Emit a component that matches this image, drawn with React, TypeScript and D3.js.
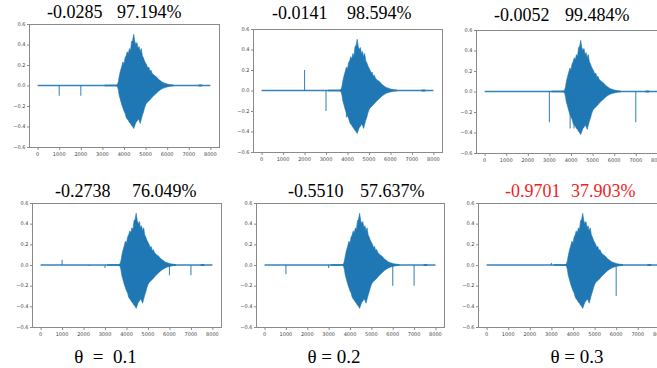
import * as d3 from 'd3';

// tick values shared by every panel
const xTicks = [0, 1000, 2000, 3000, 4000, 5000, 6000, 7000, 8000];
const yTicks = [-0.6, -0.4, -0.2, 0.0, 0.2, 0.4, 0.6];

// envelope of the speech burst (sample index, upper, lower)
const envX = [3650, 3700, 3740, 3780, 3820, 3860, 3900, 3950, 4000, 4050, 4100, 4150, 4200, 4250, 4300, 4350, 4400,
  4450, 4500, 4550, 4600, 4650, 4700, 4750, 4800, 4850, 4900, 4950, 5000, 5050, 5100, 5150, 5200, 5250, 5300, 5400,
  5500, 5600, 5700, 5800, 5900, 6000, 6100, 6200, 6300];
const envUpper = [0.006, 0.012, 0.04, 0.09, 0.13, 0.16, 0.19, 0.23, 0.21, 0.27, 0.29, 0.33, 0.31, 0.36, 0.34, 0.43,
  0.44, 0.5, 0.43, 0.4, 0.42, 0.36, 0.38, 0.33, 0.36, 0.29, 0.27, 0.24, 0.22, 0.2, 0.17, 0.18, 0.14, 0.15, 0.12, 0.1,
  0.085, 0.06, 0.045, 0.03, 0.022, 0.015, 0.01, 0.007, 0.005];
const envLower = [-0.006, -0.012, -0.045, -0.1, -0.13, -0.16, -0.19, -0.22, -0.25, -0.27, -0.31, -0.33, -0.34, -0.36,
  -0.37, -0.39, -0.4, -0.42, -0.39, -0.36, -0.35, -0.33, -0.34, -0.37, -0.33, -0.29, -0.26, -0.22, -0.19, -0.17,
  -0.16, -0.15, -0.14, -0.13, -0.115, -0.095, -0.075, -0.055, -0.04, -0.028, -0.02, -0.014, -0.009, -0.006, -0.005];

// low-level noise stretches before / after the burst
const quietStart = [3100, 7450];
const quietEnd = [3650, 7620];
const quietAmp = [0.008, 0.01];

// injected impulses per panel: [sample, value]
const spikes: [number, number][][] = [
  [[1000, -0.1], [2000, -0.1]],
  [[2000, 0.2], [3000, -0.2], [3950, -0.26]],
  [[3000, -0.3], [7000, -0.3], [3960, -0.36], [4140, -0.36]],
  [[1000, 0.05], [2250, -0.01], [3000, -0.03], [6000, -0.1], [7000, -0.1]],
  [[1000, -0.09], [3000, -0.03], [6000, -0.2], [7000, -0.2]],
  [[3000, 0.02], [6000, -0.3]],
];

const corrLabels = ['-0.0285', '-0.0141', '-0.0052', '-0.2738', '-0.5510', '-0.9701'];
const accLabels = ['97.194%', '98.594%', '99.484%', '76.049%', '57.637%', '37.903%'];
const thetaLabels = ['θ\u00a0 =\u00a0 0.1', 'θ = 0.2', 'θ = 0.3'];

// layout of each subplot (pixels)
const panels = [
  { left: 29, right: 219, top: 24, bottom: 147, t1: 47, t2: 117, ty: 17.5 },
  { left: 253, right: 442, top: 29, bottom: 152, t1: 272, t2: 347, ty: 19.3 },
  { left: 476, right: 666, top: 30, bottom: 153, t1: 494, t2: 565, ty: 20.7 },
  { left: 32, right: 221, top: 203, bottom: 327, t1: 55, t2: 132, ty: 197.3 },
  { left: 256, right: 444, top: 203, bottom: 327, t1: 288, t2: 360, ty: 196.7 },
  { left: 478, right: 668, top: 203, bottom: 327, t1: 505, t2: 571, ty: 196.7 },
];
const thetaX = [105.5, 334, 577];

const blue = '#1f77b4';
const fmtY = (v: number) => d3.format('.1f')(v).replace('-', '\u2212');

function Panel({ idx }: { idx: number }) {
  const p = panels[idx];
  const x = d3.scaleLinear().domain([-400, 8400]).range([p.left, p.right]);
  const y = d3.scaleLinear().domain([-0.6, 0.6]).range([p.bottom, p.top]);

  const area = d3.area<number>()
    .x((_, k) => x(envX[k]))
    .y0((_, k) => y(envLower[k]))
    .y1((_, k) => y(envUpper[k]));

  const titleColor = idx === 5 ? '#f21d1d' : '#000';

  return (
    <g>
      {/* title */}
      <text fontFamily="'Liberation Serif', 'Times New Roman', serif" fontSize={18} fill={titleColor}>
        <tspan x={p.t1} y={p.ty}>{corrLabels[idx]}</tspan>
        <tspan x={p.t2} y={p.ty}>{accLabels[idx]}</tspan>
      </text>

      {/* signal */}
      <line x1={x(0)} x2={x(8000)} y1={y(0)} y2={y(0)} stroke={blue} strokeWidth={1.5} opacity={0.9} />
      {quietStart.map((s, k) => (
        <rect key={'q' + k} x={x(s)} width={x(quietEnd[k]) - x(s)} y={y(quietAmp[k])}
          height={y(-quietAmp[k]) - y(quietAmp[k])} fill={blue} opacity={0.85} />
      ))}
      <path d={area(envX) || ''} fill={blue} stroke={blue} strokeWidth={0.6} />
      {spikes[idx].map(([s, v], k) => (
        <line key={'s' + k} x1={x(s)} x2={x(s)} y1={y(0)} y2={y(v)} stroke={blue} strokeWidth={1.1} opacity={0.85} />
      ))}

      {/* frame */}
      <rect x={p.left + 0.5} y={p.top + 0.5} width={p.right - p.left} height={p.bottom - p.top}
        fill="none" stroke="#8a8a8a" strokeWidth={1} />

      {/* y axis */}
      {yTicks.map((t) => (
        <g key={'y' + t}>
          <line x1={p.left - 2} x2={p.left} y1={y(t) + 0.5} y2={y(t) + 0.5} stroke="#8a8a8a" />
          <text x={p.left - 3.5} y={y(t)} dy="0.35em" textAnchor="end" fontFamily="'DejaVu Sans', sans-serif"
            fontSize={5} fill="#444">{fmtY(t)}</text>
        </g>
      ))}

      {/* x axis */}
      {xTicks.map((t) => (
        <g key={'x' + t}>
          <line x1={x(t) + 0.5} x2={x(t) + 0.5} y1={p.bottom + 1} y2={p.bottom + 3} stroke="#8a8a8a" />
          <text x={x(t)} y={p.bottom + 7} dy="0.35em" textAnchor="middle" fontFamily="'DejaVu Sans', sans-serif"
            fontSize={5} fill="#444">{t}</text>
        </g>
      ))}
    </g>
  );
}

export default function App() {
  return (
    <svg width={657} height={368} style={{ position: 'absolute', left: 0, top: 0, background: '#fff' }}>
      <rect width={657} height={368} fill="#fff" />
      {panels.map((_, i) => <Panel key={i} idx={i} />)}
      {thetaLabels.map((t, i) => (
        <text key={t} x={thetaX[i]} y={363} textAnchor="middle" fontFamily="'Liberation Serif', 'Times New Roman', serif"
          fontSize={19} fill="#000" style={{ whiteSpace: 'pre' }}>{t}</text>
      ))}
    </svg>
  );
}
